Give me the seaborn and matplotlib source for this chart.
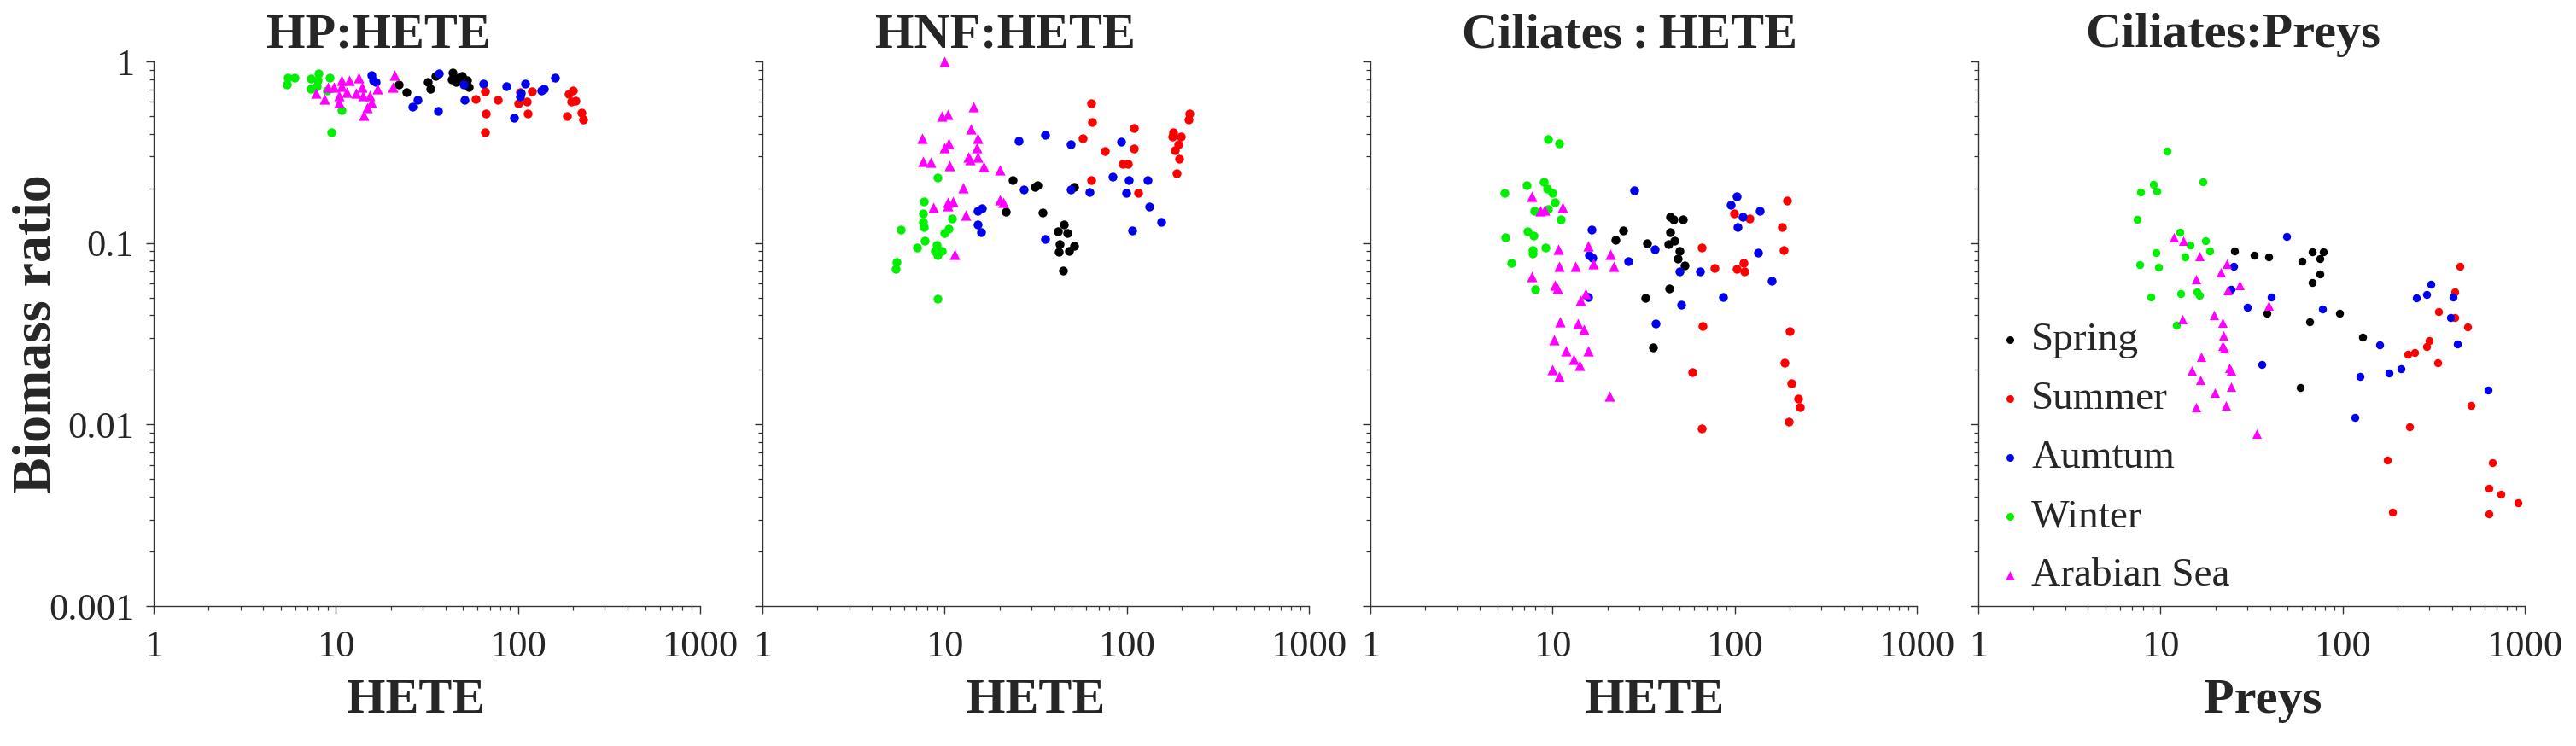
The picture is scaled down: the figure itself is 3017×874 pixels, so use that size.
import pandas as pd
import matplotlib
matplotlib.use("Agg")
import matplotlib.pyplot as plt
from matplotlib.ticker import LogLocator, FuncFormatter, NullFormatter
import seaborn as sns

# Groups, colours and marker shapes
groups = ["Spring", "Summer", "Aumtum", "Winter", "Arabian Sea"]
group_colors = ["#000000", "#ff0000", "#0000ee", "#00f000", "#ff00ff"]
group_markers = ["o", "o", "o", "o", "^"]

# Panel 1: HP:HETE
hp_spring_x = [22.2, 24.4, 32.1, 32.9, 43.6, 43.2, 45.6, 49.3, 52.6, 53.6, 47.3, 35.4]
hp_spring_y = [0.747, 0.675, 0.769, 0.708, 0.869, 0.797, 0.774, 0.832, 0.788, 0.726, 0.817, 0.832]
hp_summer_x = [58.7, 66.1, 66.6, 65.8, 77.6, 100, 112, 119, 113, 189, 201, 196, 206, 186, 222, 229, 102]
hp_summer_y = [0.619, 0.687, 0.517, 0.409, 0.613, 0.591, 0.602, 0.683, 0.517, 0.665, 0.690, 0.602,
               0.606, 0.502, 0.521, 0.481, 0.675]
hp_autumn_x = [15.6, 16.0, 16.6, 26.4, 28.0, 36.3, 36.7, 50.4, 50.8, 64.2, 86.7, 110, 104, 103,
               94.8, 134, 138, 160]
hp_autumn_y = [0.838, 0.788, 0.769, 0.564, 0.613, 0.531, 0.863, 0.747, 0.613, 0.752, 0.728, 0.752,
               0.670, 0.642, 0.489, 0.695, 0.708, 0.817]
hp_winter_x = [5.44, 5.91, 5.40, 7.31, 8.0, 7.94, 7.26, 7.88, 9.27, 8.95, 10.8, 9.4]
hp_winter_y = [0.817, 0.811, 0.747, 0.803, 0.857, 0.788, 0.708, 0.733, 0.817, 0.695, 0.540, 0.405]
hp_arabian_x = [7.8, 8.63, 9.0, 9.75, 10.8, 11.8, 10.8, 10.4, 10.4, 11.5, 12.9, 13.4, 13.9, 14.1,
                15.4, 15.7, 14.9, 14.3, 16.9, 21.0, 20.6]
hp_arabian_y = [0.670, 0.624, 0.726, 0.726, 0.788, 0.788, 0.733, 0.647, 0.597, 0.675, 0.670, 0.817,
                0.721, 0.647, 0.651, 0.597, 0.560, 0.506, 0.708, 0.838, 0.726]

# Panel 2: HNF:HETE
hnf_spring_x = [23.6, 31.2, 32.4, 51.4, 21.6, 34.4, 45.1, 42.0, 47.1, 42.9, 51.4, 42.1, 48.1, 44.8]
hnf_spring_y = [0.221, 0.203, 0.208, 0.204, 0.149, 0.147, 0.126, 0.116, 0.113, 0.0986, 0.0965,
                0.0898, 0.0901, 0.0705]
hnf_summer_x = [63.7, 64.2, 57.2, 75.7, 109, 109, 95.4, 101, 63.7, 115, 221, 219, 179, 177, 198,
                191, 183, 194, 188]
hnf_summer_y = [0.587, 0.463, 0.377, 0.320, 0.429, 0.330, 0.272, 0.272, 0.223, 0.189, 0.517, 0.480,
                0.405, 0.386, 0.386, 0.351, 0.324, 0.291, 0.242]
hnf_autumn_x = [25.4, 35.7, 49.3, 93.0, 27.2, 49.3, 62.4, 83.5, 102, 130, 99.7, 133, 155, 107,
                15.2, 16.0, 15.2, 15.9, 35.7]
hnf_autumn_y = [0.367, 0.393, 0.348, 0.361, 0.198, 0.197, 0.190, 0.232, 0.221, 0.223, 0.188, 0.159,
                0.131, 0.117, 0.150, 0.156, 0.126, 0.115, 0.105]
hnf_winter_x = [9.17, 7.66, 7.57, 7.57, 7.66, 5.74, 11.0, 10.5, 10.0, 7.74, 7.08, 9.01, 8.85, 9.68,
                9.10, 5.45, 5.38, 9.10]
hnf_winter_y = [0.229, 0.169, 0.145, 0.130, 0.123, 0.118, 0.137, 0.120, 0.113, 0.103, 0.0940,
                0.0975, 0.0907, 0.0907, 0.0860, 0.0786, 0.0718, 0.0492]
hnf_arabian_x = [10.0, 14.4, 9.68, 10.4, 7.52, 13.9, 15.2, 9.93, 10.5, 15.0, 13.5, 13.7, 15.2,
                 7.57, 8.38, 10.6, 16.3, 20.0, 12.7, 8.69, 10.4, 11.1, 10.4, 13.1, 20.1, 20.9, 11.4]
hnf_arabian_y = [0.997, 0.566, 0.502, 0.512, 0.379, 0.423, 0.379, 0.336, 0.354, 0.336, 0.298,
                 0.287, 0.298, 0.282, 0.280, 0.267, 0.263, 0.253, 0.202, 0.157, 0.168, 0.169,
                 0.160, 0.143, 0.174, 0.168, 0.0866]

# Panel 3: Ciliates : HETE
cil_spring_x = [44.4, 46.3, 52.2, 24.3, 22.1, 44.1, 32.9, 43.1, 46.5, 50.0, 48.6, 53.2, 43.6, 32.3, 35.5]
cil_spring_y = [0.139, 0.135, 0.135, 0.117, 0.104, 0.115, 0.0997, 0.0987, 0.103, 0.0901, 0.0824,
                0.0748, 0.0560, 0.0497, 0.0265]
cil_summer_x = [194, 99.3, 120, 181, 186, 66.1, 77.1, 102, 112, 113, 66.5, 201, 58.2, 188, 204,
                223, 229, 199, 66.1]
cil_summer_y = [0.171, 0.145, 0.137, 0.123, 0.0910, 0.0944, 0.0728, 0.0720, 0.0774, 0.0699,
                0.0347, 0.0325, 0.0195, 0.0220, 0.0169, 0.0139, 0.0125, 0.0104, 0.00946]
cil_autumn_x = [28.0, 16.3, 15.8, 16.6, 26.1, 36.4, 50.0, 64.4, 15.6, 50.7, 36.8, 86.0, 103, 94.8,
                111, 137, 104, 134, 160]
cil_autumn_y = [0.196, 0.118, 0.0857, 0.0833, 0.0797, 0.0927, 0.0695, 0.0695, 0.0502, 0.0459,
                0.0359, 0.0502, 0.181, 0.162, 0.140, 0.151, 0.122, 0.0885, 0.0617]
cil_winter_x = [9.41, 10.9, 5.42, 7.23, 8.91, 9.31, 10.0, 10.3, 7.95, 9.41, 11.1, 5.48, 7.31, 7.85,
                7.80, 7.80, 9.17, 5.93, 8.0]
cil_winter_y = [0.372, 0.352, 0.189, 0.209, 0.218, 0.200, 0.188, 0.167, 0.150, 0.153, 0.135, 0.108,
                0.116, 0.110, 0.0917, 0.0872, 0.0944, 0.0775, 0.0553]
cil_arabian_x = [7.71, 8.60, 9.07, 11.4, 10.7, 15.6, 20.8, 16.8, 21.6, 10.9, 13.4, 7.71, 10.3, 10.6,
                 15.2, 14.3, 11.0, 13.8, 14.8, 10.2, 11.8, 15.6, 13.0, 14.1, 10.0, 10.9, 20.6]
cil_arabian_y = [0.181, 0.151, 0.152, 0.157, 0.0927, 0.0961, 0.0863, 0.0767, 0.0740, 0.0740,
                 0.0743, 0.0653, 0.0585, 0.0564, 0.0526, 0.0484, 0.0366, 0.0359, 0.0334, 0.0292,
                 0.0256, 0.0256, 0.0229, 0.0211, 0.0200, 0.0185, 0.0144]

# Panel 4: Ciliates:Preys
prey_spring_x = [25.5, 32.8, 39.2, 59.5, 68.4, 78.5, 74.9, 74.9, 68.4, 38.5, 95.7, 66.2, 129, 58.2]
prey_spring_y = [0.0904, 0.0853, 0.0838, 0.0796, 0.0893, 0.0893, 0.0823, 0.0675, 0.0608, 0.0412,
                 0.0412, 0.0367, 0.0303, 0.0160]
prey_summer_x = [441, 413, 335, 413, 485, 299, 288, 229, 249, 333, 507, 234, 175, 664, 637, 741,
                 919, 188, 637]
prey_summer_y = [0.0741, 0.0540, 0.0419, 0.0390, 0.0344, 0.0290, 0.0270, 0.0244, 0.0248, 0.0220,
                 0.0127, 0.00973, 0.00635, 0.00619, 0.00445, 0.00412, 0.00370, 0.00330, 0.00321]
prey_autumn_x = [49.4, 25.2, 24.4, 40.6, 29.9, 77.1, 36.1, 160, 124, 179, 210, 117, 254, 288, 306,
                 403, 391, 425, 630]
prey_autumn_y = [0.109, 0.0741, 0.0556, 0.0502, 0.0440, 0.0435, 0.0214, 0.0275, 0.0185, 0.0193,
                 0.0202, 0.0110, 0.0497, 0.0520, 0.0591, 0.0506, 0.0390, 0.0277, 0.0154]
prey_winter_x = [10.9, 17.1, 9.10, 7.74, 9.58, 7.43, 12.8, 14.5, 17.7, 18.7, 9.44, 13.6, 7.71, 9.78,
                 8.84, 12.9, 15.9, 16.4, 12.2]
prey_winter_y = [0.320, 0.217, 0.210, 0.191, 0.192, 0.135, 0.115, 0.0972, 0.103, 0.0901, 0.0885,
                 0.0838, 0.0760, 0.0733, 0.0506, 0.0525, 0.0540, 0.0512, 0.0354]
prey_arabian_x = [11.9, 13.3, 16.4, 23.0, 21.4, 15.6, 27.1, 23.4, 39.3, 13.2, 19.7, 21.8, 22.2, 21.8,
                  22.5, 16.7, 14.8, 23.9, 24.3, 16.6, 24.4, 19.8, 15.6, 22.8, 33.6]
prey_arabian_y = [0.107, 0.103, 0.0848, 0.0769, 0.0690, 0.0631, 0.0585, 0.0550, 0.0451, 0.0379,
                  0.0402, 0.0363, 0.0308, 0.0272, 0.0262, 0.0235, 0.0198, 0.0206, 0.0198, 0.0177,
                  0.0161, 0.0150, 0.0125, 0.0127, 0.00889]

panel_titles = ["HP:HETE", "HNF:HETE", "Ciliates\u2009:\u2009HETE", "Ciliates:Preys"]
panel_xlabels = ["HETE", "HETE", "HETE", "Preys"]


def make_frame(xs, ys):
    parts = []
    for g, x, y in zip(groups, xs, ys):
        parts.append(pd.DataFrame({"x": x, "y": y, "group": g}))
    return pd.concat(parts, ignore_index=True)


frames = [
    make_frame([hp_spring_x, hp_summer_x, hp_autumn_x, hp_winter_x, hp_arabian_x],
               [hp_spring_y, hp_summer_y, hp_autumn_y, hp_winter_y, hp_arabian_y]),
    make_frame([hnf_spring_x, hnf_summer_x, hnf_autumn_x, hnf_winter_x, hnf_arabian_x],
               [hnf_spring_y, hnf_summer_y, hnf_autumn_y, hnf_winter_y, hnf_arabian_y]),
    make_frame([cil_spring_x, cil_summer_x, cil_autumn_x, cil_winter_x, cil_arabian_x],
               [cil_spring_y, cil_summer_y, cil_autumn_y, cil_winter_y, cil_arabian_y]),
    make_frame([prey_spring_x, prey_summer_x, prey_autumn_x, prey_winter_x, prey_arabian_x],
               [prey_spring_y, prey_summer_y, prey_autumn_y, prey_winter_y, prey_arabian_y]),
]

sns.set_style("ticks")
plt.rcParams["font.family"] = ["Liberation Serif", "DejaVu Serif"]

W, H = 3017, 874
fig = plt.figure(figsize=(W / 100, H / 100), dpi=100)

lefts = [180, 893, 1605, 2317]
title_x = [0.412, 0.445, 0.475, 0.466]
xlabel_x = [0.48, 0.50, 0.52, 0.52]
axis_col = "#333333"

for i, (df, left) in enumerate(zip(frames, lefts)):
    ax = fig.add_axes([left / W, (H - 710) / H, 640 / W, 638 / H])
    size = 56 if i < 3 else 46
    for g, c, m in zip(groups, group_colors, group_markers):
        sub = df[df["group"] == g]
        s = size * 1.4 if m == "^" else size
        sns.scatterplot(data=sub, x="x", y="y", color=c, marker=m, s=s, linewidth=0,
                        label=g, ax=ax, legend=False, clip_on=False)
    ax.set_xscale("log")
    ax.set_yscale("log")
    ax.set_xlim(1, 1000)
    ax.set_ylim(0.001, 1)
    fmt = FuncFormatter(lambda v, p: f"{v:g}")
    for axis in (ax.xaxis, ax.yaxis):
        axis.set_major_locator(LogLocator(base=10))
        axis.set_minor_locator(LogLocator(base=10, subs=range(2, 10)))
        axis.set_major_formatter(fmt)
        axis.set_minor_formatter(NullFormatter())
    sns.despine(ax=ax)
    for sp in ("left", "bottom"):
        ax.spines[sp].set_color(axis_col)
        ax.spines[sp].set_linewidth(1.0)
    ax.tick_params(which="major", length=6.5, width=1.0, color=axis_col, labelsize=32)
    ax.tick_params(which="minor", length=3.6, width=0.9, color=axis_col)
    ax.tick_params(axis="x", which="major", pad=14)
    ax.tick_params(axis="y", which="major", pad=10)
    if i > 0:
        ax.tick_params(labelleft=False)

    ax.set_title(panel_titles[i], fontsize=42, fontweight="bold", x=title_x[i], pad=12)
    ax.set_xlabel(panel_xlabels[i], fontsize=42, fontweight="bold")
    ax.xaxis.set_label_coords(xlabel_x[i], -0.133)
    if i == 0:
        ax.set_ylabel("Biomass ratio", fontsize=46, fontweight="bold")
        ax.yaxis.set_label_coords(-0.168, 0.5)
    else:
        ax.set_ylabel("")

    if i == 3:
        ax.legend(loc="upper left", bbox_to_anchor=(0.029, 0.522), frameon=False, fontsize=34,
                  labelspacing=0.55, handlelength=0.8, handletextpad=0.12, borderpad=0,
                  borderaxespad=0, markerscale=0.95)

fig.savefig("out.png", dpi=100)
